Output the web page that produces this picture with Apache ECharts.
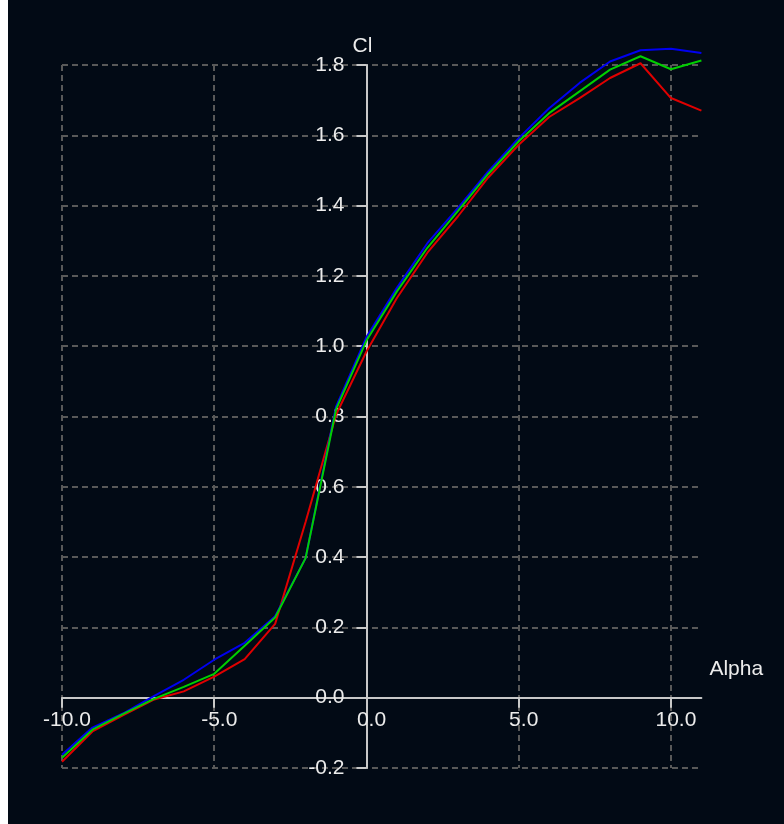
<!DOCTYPE html>
<html>
<head>
<meta charset="utf-8">
<script src="https://cdn.jsdelivr.net/npm/echarts@6/dist/echarts.min.js"></script>
<style>
  html, body { margin: 0; padding: 0; background: #ffffff; }
  #chart { position: absolute; left: 8px; top: 0; width: 776px; height: 824px; }
</style>
</head>
<body>
<div id="chart"></div>
<script>
// Angle of attack (degrees)
const alpha = [-10, -9, -8, -7, -6, -5, -4, -3, -2, -1, 0, 1, 2, 3, 4, 5, 6, 7, 8, 9, 10, 11];

// Lift coefficient polars
const clRed   = [-0.182, -0.096, -0.050, -0.006, 0.018, 0.060, 0.110, 0.210, 0.500, 0.805, 0.985, 1.137, 1.266, 1.369, 1.480, 1.573, 1.652, 1.706, 1.763, 1.805, 1.706, 1.670];
const clGreen = [-0.171, -0.091, -0.047, -0.004, 0.031, 0.068, 0.148, 0.228, 0.397, 0.820, 1.016, 1.156, 1.280, 1.384, 1.490, 1.583, 1.663, 1.725, 1.787, 1.825, 1.788, 1.813];
const clBlue  = [-0.162, -0.085, -0.045, 0.004, 0.051, 0.108, 0.156, 0.232, 0.397, 0.828, 1.026, 1.166, 1.293, 1.393, 1.497, 1.592, 1.677, 1.749, 1.810, 1.842, 1.846, 1.834];

const xName = 'Alpha';
const yName = 'Cl';

const xMin = -10, xMax = 11, xStep = 5;
const yMin = -0.2, yMax = 1.8, yStep = 0.2;

const pairs = ys => alpha.map((a, i) => [a, ys[i]]);

const textColor = '#ececec';
const axisColor = '#c8c8c8';
const gridColor = '#595959';
const font = 'Liberation Sans, Arial, sans-serif';
const dash = { color: gridColor, type: [6, 4], width: 2 };

const chart = echarts.init(document.getElementById('chart'));
chart.setOption({
  backgroundColor: '#020a15',
  animation: false,
  grid: { left: 54, right: 82.6, top: 65, bottom: 56, containLabel: false, outerBoundsMode: 'none' },
  xAxis: {
    type: 'value',
    min: xMin, max: xMax, interval: xStep,
    name: xName,
    nameLocation: 'end',
    nameGap: 8,
    nameTextStyle: { color: textColor, fontFamily: font, fontSize: 21, align: 'left', verticalAlign: 'bottom', lineHeight: 56 },
    axisLine: { onZero: false, lineStyle: { color: axisColor, width: 2 } },
    axisTick: { show: true, length: 10, lineStyle: { color: axisColor, width: 2 } },
    axisLabel: {
      color: textColor, fontFamily: font, fontSize: 21, margin: 12,
      padding: [0, 0, 0, 10],
      showMaxLabel: false,
      formatter: v => v.toFixed(1)
    },
    splitLine: { show: true, showMaxLine: false, lineStyle: dash }
  },
  yAxis: {
    type: 'value',
    min: yMin, max: yMax, interval: yStep,
    name: yName,
    nameLocation: 'end',
    nameGap: 8,
    nameTextStyle: { color: textColor, fontFamily: font, fontSize: 21, padding: [0, 8, 0, 0] },
    axisLine: { onZero: false, lineStyle: { color: axisColor, width: 2 } },
    axisTick: { show: true, length: 10, lineStyle: { color: axisColor, width: 2 } },
    axisLabel: {
      color: textColor, fontFamily: font, fontSize: 21, margin: 22,
      formatter: v => v.toFixed(1)
    },
    splitLine: { show: true, lineStyle: dash }
  },
  series: [
    { name: 'red',   type: 'line', data: pairs(clRed),   clip: false, showSymbol: false, lineStyle: { color: '#e00000', width: 2 }, z: 2 },
    { name: 'blue',  type: 'line', data: pairs(clBlue),  clip: false, showSymbol: false, lineStyle: { color: '#0000f0', width: 2 }, z: 3 },
    { name: 'green', type: 'line', data: pairs(clGreen), clip: false, showSymbol: false, lineStyle: { color: '#00d000', width: 2 }, z: 4 }
  ]
});

// Move both axes (line, ticks, labels, names) so they cross at the origin.
const origin = chart.convertToPixel({ gridIndex: 0 }, [0, 0]);
const corner = chart.convertToPixel({ gridIndex: 0 }, [xMin, yMin]);
chart.setOption({
  xAxis: { offset: -(corner[1] - origin[1]) },
  yAxis: { offset: -(origin[0] - corner[0]) }
});
</script>
</body>
</html>
